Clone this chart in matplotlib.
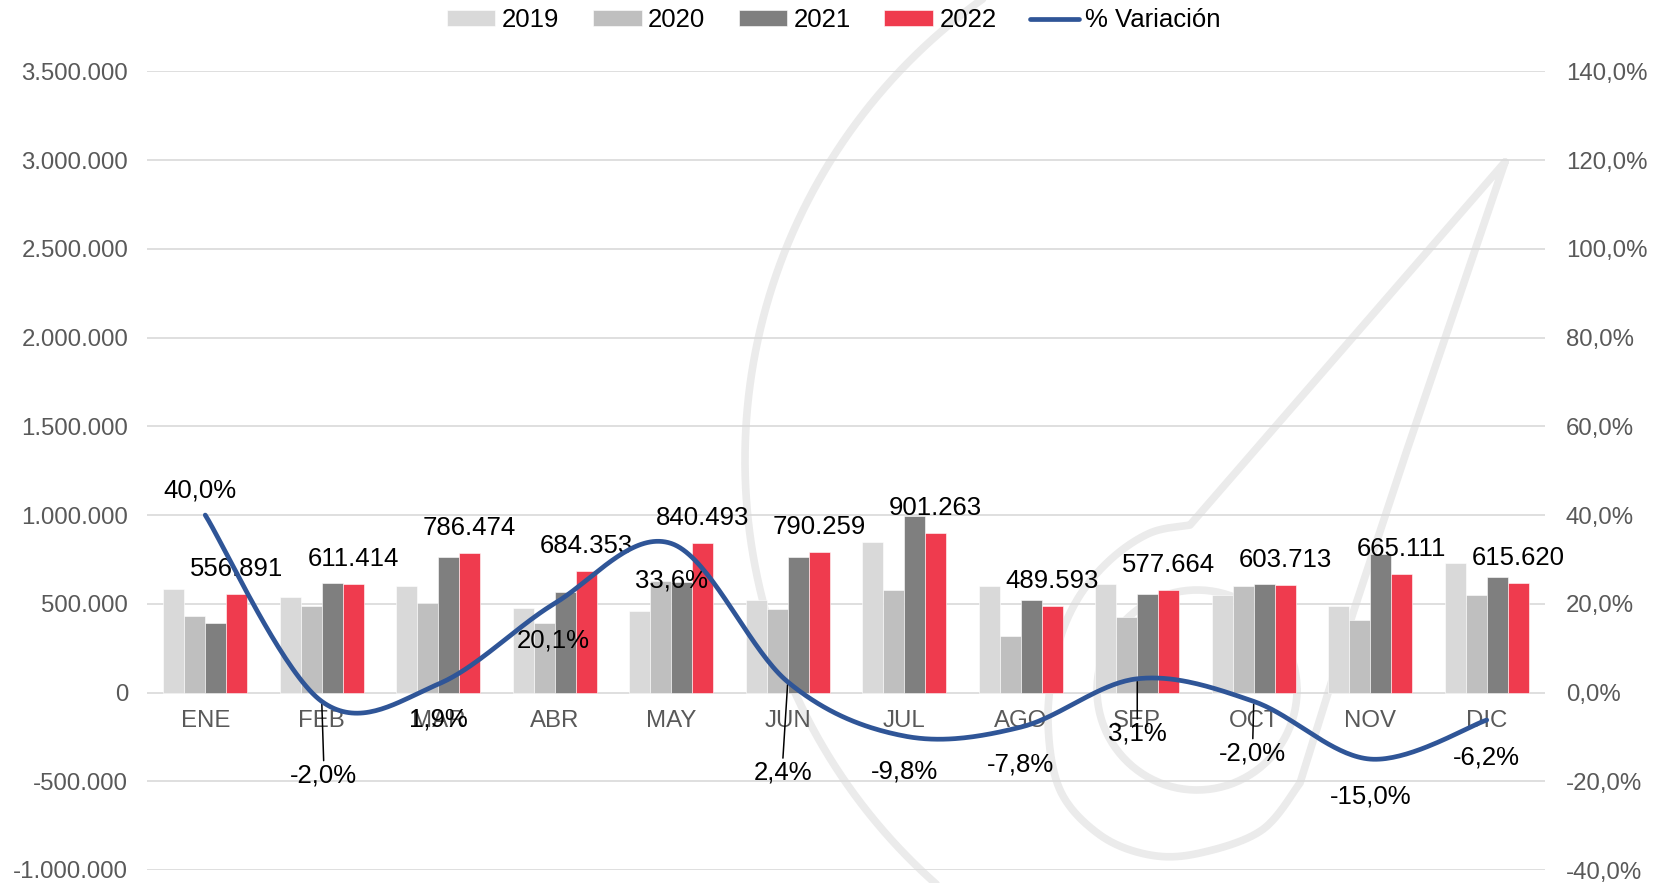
import numpy as np
import matplotlib
matplotlib.use("Agg")
from matplotlib import pyplot as plt
from matplotlib.ticker import FuncFormatter, MultipleLocator

plt.rcParams["font.family"] = ["Liberation Sans", "DejaVu Sans"]

meses = ["ENE", "FEB", "MAR", "ABR", "MAY", "JUN", "JUL", "AGO", "SEP", "OCT", "NOV", "DIC"]
v2019 = [582000, 536000, 603000, 479000, 460000, 524000, 849000, 603000, 614000, 547000, 490000, 731000]
v2020 = [432000, 485000, 507000, 389000, 626000, 473000, 577000, 321000, 427000, 601000, 410000, 551000]
v2021 = [391000, 616000, 765000, 564000, 622000, 765000, 992000, 524000, 554000, 610000, 780000, 650000]
v2022 = [556891, 611414, 786474, 684353, 840493, 790259, 901263, 489593, 577664, 603713, 665111, 615620]
variacion = [40.0, -2.0, 1.9, 20.1, 33.6, 2.4, -9.8, -7.8, 3.1, -2.0, -15.0, -6.2]

# label offsets (pixels) for the % labels, and which ones get a leader line
pct_off = [(-5, 25), (2, -74), (0, -35), (-1, -37), (0, -37), (-5, -91),
           (0, -35), (0, -37), (0, -55), (-1, -52), (0, -37), (0, -37)]
leader = [False, True, False, False, False, True, False, False, True, True, False, False]

colores = ["#D9D9D9", "#BFBFBF", "#7F7F7F", "#EF3B4E"]
azul = "#2F5597"
gris_txt = "#595959"


def smooth(xs, ys, n=40):
    # excel-like smoothed line (cubic bezier, catmull-rom tangents)
    P = np.column_stack([xs, ys]).astype(float)
    out = []
    for i in range(len(P) - 1):
        p0 = P[i - 1] if i > 0 else P[i]
        p3 = P[i + 2] if i + 2 < len(P) else P[i + 1]
        c1 = P[i] + (P[i + 1] - p0) / 6
        c2 = P[i + 1] - (p3 - P[i]) / 6
        t = np.linspace(0, 1, n)[:, None]
        seg = ((1 - t) ** 3) * P[i] + 3 * ((1 - t) ** 2) * t * c1 + 3 * (1 - t) * t ** 2 * c2 + t ** 3 * P[i + 1]
        out.append(seg if i == 0 else seg[1:])
    out = np.vstack(out)
    return out[:, 0], out[:, 1]


fig = plt.figure(figsize=(16.71, 8.83), dpi=100)

# background watermark (light grey drop logo)
bg = fig.add_axes([0, 0, 1, 1], zorder=-1)
bg.set_xlim(0, 1671)
bg.set_ylim(883, 0)
bg.axis("off")
wm = dict(color="#EBEBEB", lw=5.5, solid_capstyle="round", solid_joinstyle="round")
th = np.radians(np.linspace(125, 240, 200))
bg.plot(1311 + 566 * np.cos(th), 460 - 566 * np.sin(th), **wm)
th = np.linspace(0, 2 * np.pi, 200)
bg.plot(1197 + 100 * np.cos(th), 690 + 100 * np.sin(th), **wm)
dx = [1505, 1190, 1150, 1110, 1077, 1057, 1048, 1060, 1100, 1150, 1200, 1262, 1300, 1353, 1407, 1505]
dy = [162, 525, 533, 560, 600, 650, 720, 790, 835, 855, 853, 830, 783, 613, 450, 162]
sx, sy = smooth(dx[1:13], dy[1:13])
bg.plot(np.r_[dx[0], sx, dx[13:]], np.r_[dy[0], sy, dy[13:]], **wm)

ax = fig.add_axes([147 / 1671, 1 - 870 / 883, (1545 - 147) / 1671, (870 - 71.4) / 883])
ax.patch.set_visible(False)
x = np.arange(len(meses))
w = 0.18
series = [v2019, v2020, v2021, v2022]
nombres = ["2019", "2020", "2021", "2022"]
handles = []
for k, vals in enumerate(series):
    b = ax.bar(x + (k - 1.5) * w, vals, w, color=colores[k], label=nombres[k],
               edgecolor="white", linewidth=0.4, zorder=2)
    handles.append(b)

for xi, v in zip(x, v2022):
    ax.annotate("{:,.0f}".format(v).replace(",", "."), (xi + 1.5 * w, v),
                xytext=(0, 25), textcoords="offset pixels", ha="center", va="center",
                fontsize=18.5, color="black", zorder=5)

ax.set_xlim(-0.5, 11.5)
ax.set_ylim(-1000000, 3500000)
ax.yaxis.set_major_locator(MultipleLocator(500000))
ax.yaxis.set_major_formatter(FuncFormatter(lambda v, p: "{:,.0f}".format(v).replace(",", ".")))
ax.set_xticks(x)
ax.set_xticklabels(meses)
ax.spines["bottom"].set_position(("data", 0))
for s in ax.spines.values():
    s.set_visible(False)
ax.tick_params(axis="y", length=0, pad=13.5, labelsize=17.3, labelcolor=gris_txt)
ax.tick_params(axis="x", length=0, pad=12.5, labelsize=17.3, labelcolor=gris_txt)
ax.grid(axis="y", color="#D9D9D9", lw=1.2, zorder=0)
ax.set_axisbelow(True)

ax2 = ax.twinx()
ax2.patch.set_visible(False)
ax2.set_ylim(-40, 140)
ax2.yaxis.set_major_locator(MultipleLocator(20))
ax2.yaxis.set_major_formatter(FuncFormatter(lambda v, p: "{:.1f}%".format(v).replace(".", ",")))
for s in ax2.spines.values():
    s.set_visible(False)
ax2.tick_params(axis="y", length=0, pad=15, labelsize=17.3, labelcolor=gris_txt)

lx, ly = smooth(x, variacion)
linea, = ax2.plot(lx, ly, color=azul, lw=3.4, solid_capstyle="round", label="% Variación", zorder=4)

for xi, p, off, ld in zip(x, variacion, pct_off, leader):
    txt = "{:.1f}%".format(p).replace(".", ",")
    if ld:
        ax2.annotate(txt, (xi, p), xytext=off, textcoords="offset pixels", ha="center", va="center",
                     fontsize=18.5, color="black",
                     arrowprops=dict(arrowstyle="-", color="black", lw=1.1, shrinkA=0, shrinkB=2,
                                     relpos=(0.5, 1.0)))
    else:
        ax2.annotate(txt, (xi, p), xytext=off, textcoords="offset pixels", ha="center", va="center",
                     fontsize=18.5, color="black")

fig.legend(handles + [linea], nombres + ["% Variación"], loc="center", bbox_to_anchor=(0.499, 0.977),
           ncol=5, frameon=False, fontsize=18.5, handlelength=1.9, handleheight=0.6,
           handletextpad=0.25, columnspacing=1.3)

fig.savefig("out.png", dpi=100)
